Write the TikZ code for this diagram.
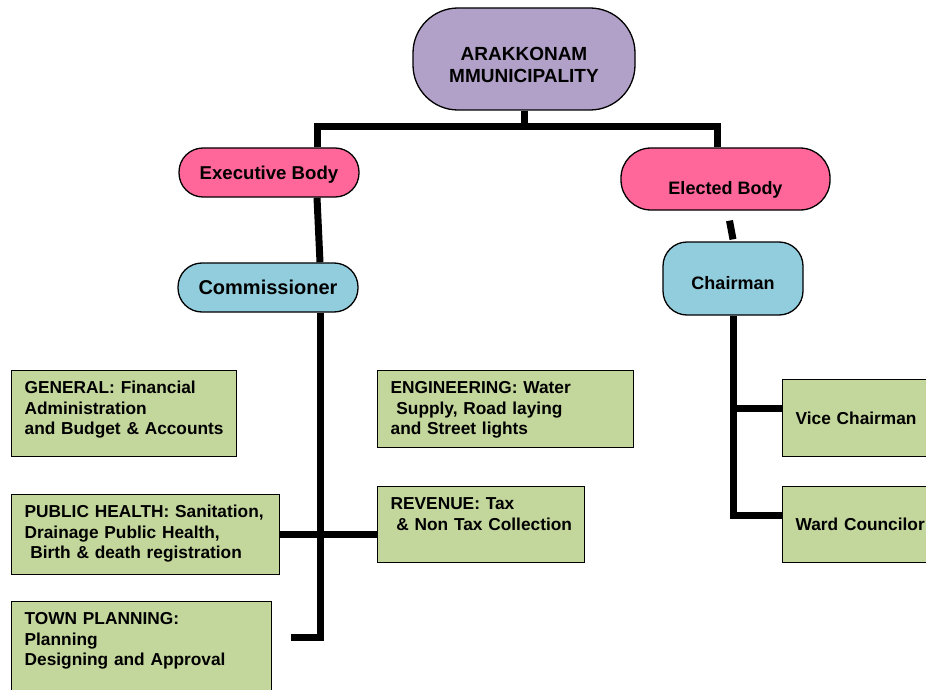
\documentclass[tikz,border=0pt]{standalone}
\usepackage{fontspec}
\setmainfont{Liberation Sans}
\usetikzlibrary{calc}
\definecolor{rootlilac}{RGB}{177,160,199}
\definecolor{bodypink}{RGB}{255,102,153}
\definecolor{headblue}{RGB}{146,205,221}
\definecolor{deptgreen}{RGB}{195,214,155}
\tikzstyle{oval} = [draw,line width=1.3pt,rectangle,inner sep=0,text depth=0pt,font=\bfseries]
\tikzstyle{dept} = [draw,line width=1.3pt,rectangle,fill=deptgreen,anchor=north west,align=left,inner xsep=13pt,inner ysep=11pt,text height=12pt,font=\fontsize{17.3}{20.5}\selectfont\bfseries]
\tikzstyle{role} = [draw,line width=1.3pt,rectangle,fill=deptgreen,anchor=north west,align=left,inner xsep=13pt,text width=155pt,font=\fontsize{17.3}{20.5}\selectfont\bfseries]
\tikzstyle{link} = [-,line width=7pt]

\begin{document}
\begin{tikzpicture}[x=1pt,y=-1pt]
\clip (0,0) rectangle (926,690);
\node[oval,fill=rootlilac,minimum width=222pt,minimum height=102pt,rounded corners=45pt,text width=200pt,align=center,text height=25.6pt,text depth=22pt,font=\fontsize{19}{22}\selectfont\bfseries] (root) at (524,59) {ARAKKONAM\\MMUNICIPALITY};
\node[oval,fill=bodypink,minimum width=180pt,minimum height=49pt,rounded corners=24pt,text height=13.3pt,font=\fontsize{18.6}{22}\selectfont\bfseries] (exec) at (269,172.5) {Executive Body};
\node[oval,fill=headblue,minimum width=180pt,minimum height=49pt,rounded corners=24pt,text height=14.3pt,font=\fontsize{20}{24}\selectfont\bfseries] (comm) at (268,287.5) {Commissioner};
\node[oval,fill=bodypink,minimum width=209pt,minimum height=62pt,rounded corners=30pt,text height=30.9pt,font=\fontsize{18}{22}\selectfont\bfseries] (elect) at (725.5,179) {Elected Body};
\node[oval,fill=headblue,minimum width=140pt,minimum height=73pt,rounded corners=24pt,text height=22.9pt,font=\fontsize{18}{22}\selectfont\bfseries] (chair) at (733,278.5) {Chairman};

\node[dept,text width=199pt,text depth=52pt] (gen) at (11,370) {GENERAL: Financial\\Administration\\and Budget \& Accounts};
\node[dept,text width=230pt,text depth=43pt] (eng) at (377,370) {ENGINEERING: Water\\~Supply, Road laying\\and Street lights};
\node[dept,text width=242pt,text depth=46pt] (ph) at (11,494) {PUBLIC HEALTH: Sanitation,\\Drainage Public Health,\\~Birth \& death registration};
\node[dept,text width=181pt,text depth=42pt] (rev) at (377,486) {REVENUE: Tax\\\mbox{~\& Non Tax Collection}};
\node[dept,text width=234pt,text depth=66pt] (town) at (11,601) {TOWN PLANNING:\\Planning\\Designing and Approval};
\node[role,minimum height=77pt] (vice) at (782,379) {Vice Chairman};
\node[role,minimum height=76pt] (ward) at (782,486) {Ward Councilor};

\coordinate (busL) at (317,127);
\coordinate (busR) at (717,127);
\coordinate (trunk) at (320,637);
\coordinate (tpEnd) at (291,637);
\draw[link] (root.south) -- (root.south |- busL);
\draw[link] (busL |- exec.north) -- (busL) -- (busR) -- (busR |- elect.north);
\draw[link] (exec.south -| busL) -- (comm.north -| trunk);
\draw[link] (comm.south -| trunk) -- (trunk) -- (tpEnd);
\draw[link] (ph.east) -- (ph.east -| rev.west);
\draw[link] ($(elect.south)+(4,10)$) -- ($(chair.north)+(0,-2)$);
\draw[link] (chair.south) |- ([yshift=9pt]ward.west);
\draw[link] ([yshift=10pt]vice.west -| chair.south) -- ([yshift=10pt]vice.west);
\end{tikzpicture}
\end{document}
